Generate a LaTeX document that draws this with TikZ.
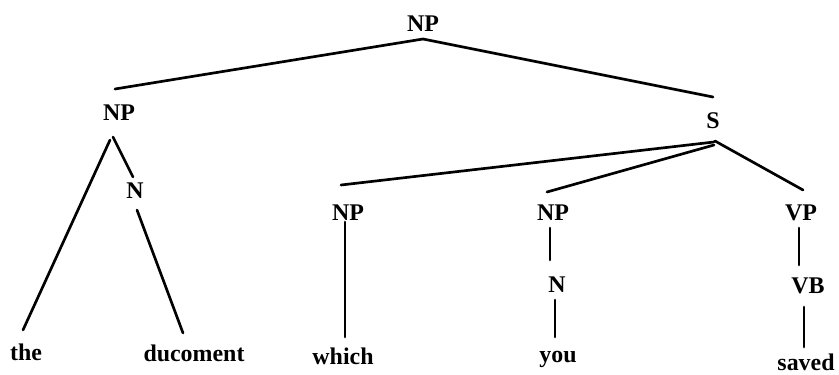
\documentclass[tikz,border=0pt]{standalone}
\usepackage{fontspec}
\setmainfont{Liberation Serif}
\usepackage{tikz}
\usetikzlibrary{calc}
\tikzset{
  cat/.style={font=\bfseries\fontsize{17pt}{20pt}\selectfont, inner sep=0pt, anchor=base},
  wrd/.style={font=\bfseries\fontsize{17pt}{20pt}\selectfont, inner sep=0pt, anchor=base},
  br/.style={line width=1.9pt, line cap=round},
}
\begin{document}
\begin{tikzpicture}[x=0.025cm, y=-0.025cm]
  \useasboundingbox (0,0) rectangle (839,374);

  % ─── Categories ──────────────────────────────────────────────
  \node[cat] (np0) at (423, 32)  {NP};
  \node[cat] (np1) at (119, 120) {NP};
  \node[cat] (s)   at (713, 128) {S};
  \node[cat] (n1)  at (135, 198) {N};
  \node[cat] (np2) at (348, 220) {NP};
  \node[cat] (np3) at (553, 220) {NP};
  \node[cat] (vp)  at (801, 220) {VP};
  \node[cat] (n3)  at (557, 292) {N};
  \node[cat] (vb)  at (808, 293) {VB};

  % ─── Words ───────────────────────────────────────────────────
  \node[wrd] (the)   at (26, 360)  {the};
  \node[wrd] (doc)   at (194, 361) {ducoment};
  \node[wrd] (which) at (343, 364) {which};
  \node[wrd] (you)   at (558, 362) {you};
  \node[wrd] (saved) at (806, 370) {saved};

  % ─── Branches ────────────────────────────────────────────────
  \draw[br] ($(np0.base)+(0,7)$) -- ($(np1.base)+(-4,-31)$);
  \draw[br] ($(np0.base)+(0,7)$) -- ($(s.base)+(0,-31)$);

  \draw[br] ($(np1.base)+(-9,20)$) -- ($(the.base)+(-3,-30)$);
  \draw[br] ($(np1.base)+(-6,17)$) -- ($(n1.base)+(-2,-21)$);
  \draw[br] ($(n1.base)+(2,12)$) -- ($(doc.base)+(-11,-28)$);

  \draw[br] ($(s.base)+(1,14)$) -- ($(np2.base)+(-7,-35)$);
  \draw[br] ($(s.base)+(1,17)$) -- ($(np3.base)+(-6,-28)$);
  \draw[br] ($(s.base)+(2,13)$) -- ($(vp.base)+(2,-30)$);

  \draw[br] ($(np2.base)+(-3,2)$) -- ($(which.base)+(2,-27)$);
  \draw[br] ($(np3.base)+(-3,8)$) -- ($(n3.base)+(-7,-32)$);
  \draw[br] ($(n3.base)+(-2,8)$) -- ($(you.base)+(-3,-25)$);
  \draw[br] ($(vp.base)+(-2,8)$) -- ($(vb.base)+(-9,-28)$);
  \draw[br] ($(vb.base)+(-4,14)$) -- ($(saved.base)+(-2,-23)$);
\end{tikzpicture}
\end{document}
